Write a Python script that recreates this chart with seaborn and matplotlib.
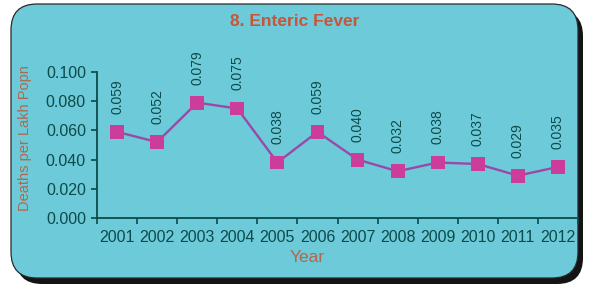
import matplotlib
matplotlib.use("Agg")
import matplotlib.pyplot as plt
import seaborn as sns
from matplotlib.patches import FancyBboxPatch

years = ["2001", "2002", "2003", "2004", "2005", "2006", "2007", "2008", "2009", "2010", "2011", "2012"]
deaths = [0.059, 0.052, 0.079, 0.075, 0.038, 0.059, 0.040, 0.032, 0.038, 0.037, 0.029, 0.035]
yticks = [0.0, 0.02, 0.04, 0.06, 0.08, 0.10]

sns.set_theme(style="white")
plt.rcParams['font.family'] = ['Liberation Sans', 'DejaVu Sans']

W, H = 592, 288
fig = plt.figure(figsize=(W / 100, H / 100), dpi=100)
fig.patch.set_facecolor("white")

# background axes in pixel coordinates for the panel
bg = fig.add_axes([0, 0, 1, 1], zorder=-1)
bg.set_xlim(0, W)
bg.set_ylim(H, 0)
bg.axis("off")
shadow = FancyBboxPatch((16, 10), 583 - 16, 284 - 10,
                        boxstyle="round,pad=0,rounding_size=26",
                        facecolor="#141414", edgecolor="none")
panel = FancyBboxPatch((11, 4), 578 - 11, 278 - 4,
                       boxstyle="round,pad=0,rounding_size=26",
                       facecolor="#6ccad9", edgecolor="#2a2a2a", linewidth=0.9)
bg.add_patch(shadow)
bg.add_patch(panel)

ax = fig.add_axes([97 / W, 70 / H, (578 - 97) / W, (218 - 72) / H])
ax.set_facecolor("none")
x = list(range(len(years)))
sns.lineplot(x=x, y=deaths, ax=ax, color="#9a4aa6", linewidth=1.7, zorder=3)
sns.scatterplot(x=x, y=deaths, ax=ax, marker="s", s=100, color="#cc3d9b", edgecolor="none", zorder=4)

for xi, v in zip(x, deaths):
    ax.annotate(f"{v:.3f}", (xi, v), xytext=(0, 13), textcoords="offset points",
                rotation=90, ha="center", va="bottom", fontsize=10, color="#0d4a4a")

ax.set_xlim(-0.5, len(years) - 0.5)
ax.set_ylim(0, 0.1)
ax.set_yticks(yticks)
ax.set_yticklabels([f"{t:.3f}" for t in yticks], fontsize=11.5, color="#0d4a4a")
ax.set_xticks(x)
ax.set_xticklabels(years, fontsize=11.5, color="#0d4a4a")
ax.set_xticks([i - 0.5 for i in range(len(years) + 1)], minor=True)
ax.tick_params(axis="x", which="major", length=0, pad=9)
ax.tick_params(axis="x", which="minor", length=4, width=1.2, color="#0d4a4a", direction="out", bottom=True)
ax.tick_params(axis="y", length=4, width=1.2, color="#0d4a4a", direction="out", pad=4, left=True)
for s in ["top", "right"]:
    ax.spines[s].set_visible(False)
for s in ["left", "bottom"]:
    ax.spines[s].set_color("#0d4a4a")
    ax.spines[s].set_linewidth(1.3)

ax.set_xlabel("")
ax.set_ylabel("")
fig.text(307 / W, 1 - 258 / H, "Year", ha="center", va="center",
         fontsize=12.5, color="#b0684e")
fig.text(25 / W, 1 - 138 / H, "Deaths per Lakh Popn", ha="center", va="center",
         rotation=90, fontsize=10.5, color="#b0684e")

fig.text(295 / W, 1 - 22 / H, "8. Enteric Fever", ha="center", va="center",
         fontsize=12.5, fontweight="bold", color="#c8553a")

fig.savefig("out.png", dpi=100, facecolor="white")
